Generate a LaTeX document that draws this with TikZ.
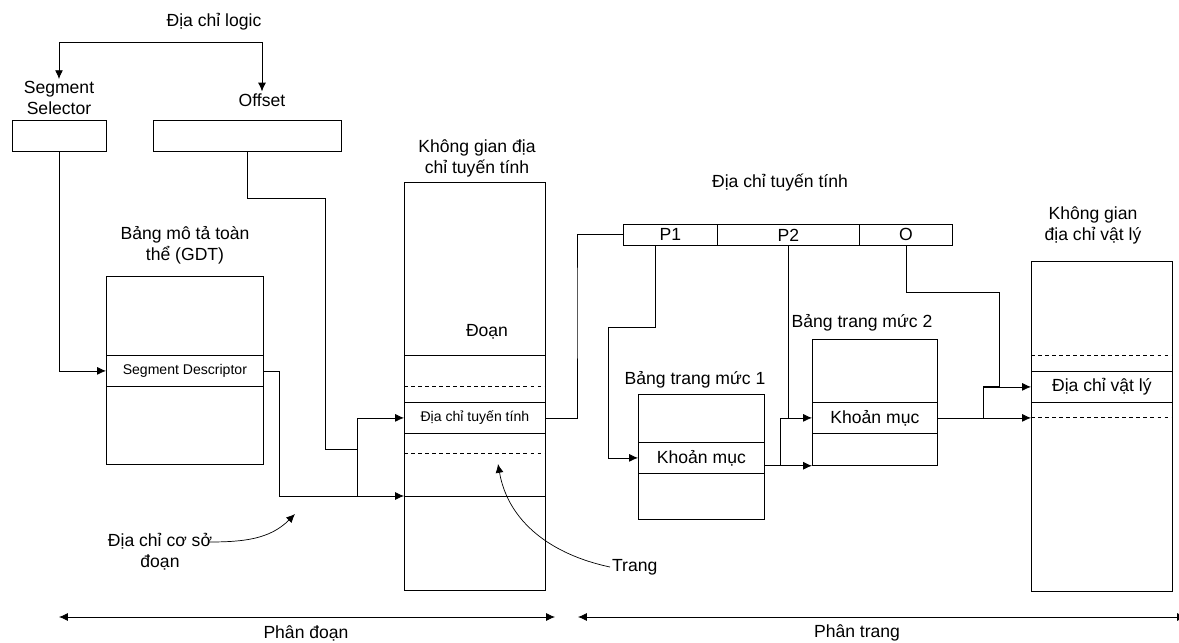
\documentclass[tikz,border=0pt]{standalone}
\usepackage{fontspec}
\setmainfont{Liberation Sans}
\usetikzlibrary{arrows.meta}

\begin{document}
\begin{tikzpicture}[x=0.02cm,y=-0.02cm,line width=0.45pt,
  font=\fontsize{10}{12}\selectfont,
  box/.style={draw,inner sep=0pt,anchor=north west},
  lbl/.style={align=center,inner sep=1pt},
  small/.style={font=\fontsize{8}{10}\selectfont},
  dsh/.style={dash pattern=on 2pt off 2pt},
  >={Latex[length=5pt,width=4.5pt]}]
\useasboundingbox (0,0) rectangle (1179,642);

% logical address
\node[lbl] (logic) at (214,22) {Địa chỉ logic};
\node[lbl] (sellbl) at (59,98) {Segment\\Selector};
\node[lbl] (offlbl) at (262,100) {Offset};
\node[box,minimum width=1.88cm,minimum height=0.62cm] (sel) at (12,120) {};
\node[box,minimum width=3.76cm,minimum height=0.62cm] (off) at (153,120) {};
\coordinate (lg) at (160,42);
\draw[->] (lg) -| (sellbl.north);
\draw[->] (lg) -| (offlbl.north);

% GDT
\node[lbl] (gdtlbl) at (185,245) {Bảng mô tả toàn\\thể (GDT)};
\node[box,minimum width=3.14cm,minimum height=3.76cm] (gdt) at (106,276) {};
\node[box,small,minimum width=3.14cm,minimum height=0.62cm] (desc) at (106,355) {Segment Descriptor};

% linear address space
\node[lbl] (linlbl) at (477,158) {Không gian địa\\chỉ tuyến tính};
\node[box,minimum width=2.82cm,minimum height=8.16cm] (lin) at (404,182) {};
\node[lbl] (doan) at (487,332) {Đoạn};
\draw (404,355) -- (545,355);
\draw (404,496) -- (545,496);
\draw[dsh] (404,386) -- (545,386);
\draw[dsh] (404,453) -- (545,453);
\node[box,small,minimum width=2.82cm,minimum height=0.62cm] (linrow) at (404,402) {Địa chỉ tuyến tính};

% linear address fields
\node[lbl] (addrlbl) at (780,183) {Địa chỉ tuyến tính};
\node[box,minimum width=1.88cm,minimum height=0.42cm] (p1) at (623,224) {P1};
\node[box,minimum width=2.84cm,minimum height=0.42cm] (p2) at (717,224) {P2};
\node[box,minimum width=1.86cm,minimum height=0.42cm] (o) at (859,224) {O};

% page tables
\node[lbl] (t1lbl) at (695,380) {Bảng trang mức 1};
\node[box,minimum width=2.52cm,minimum height=2.5cm] (t1) at (638,394) {};
\node[box,minimum width=2.52cm,minimum height=0.62cm] (t1row) at (638,442) {Khoản mục};
\node[lbl] (t2lbl) at (862,323) {Bảng trang mức 2};
\node[box,minimum width=2.5cm,minimum height=2.52cm] (t2) at (812,339) {};
\node[box,minimum width=2.5cm,minimum height=0.62cm] (t2row) at (812,402) {Khoản mục};

% physical address space
\node[lbl] (physlbl) at (1093,225) {Không gian\\địa chỉ vật lý};
\node[box,minimum width=2.82cm,minimum height=6.6cm] (phys) at (1031,261) {};
\draw[dsh] (1031,355) -- (1172,355);
\draw[dsh] (1031,417) -- (1172,417);
\node[box,minimum width=2.82cm,minimum height=0.62cm] (physrow) at (1031,371) {Địa chỉ vật lý};

% segmentation connectors
\coordinate (j1) at (357,449);
\coordinate (base) at (404,496);
\draw[->] (sel.south) |- (desc.west);
\draw (off.south) |- (325,198) |- (j1);
\draw[->] (desc.east) -| (279,496) -- (base);
\draw[->] (j1) |- (linrow.west);
\draw (j1) -- (357,496);
\draw (linrow.east) -| (577,300) |- (p1.west);

% paging connectors
\draw[->] ([xshift=-0.3cm]p1.south) |- (608,327) |- (t1row.west);
\draw (p2.south) -- (p2.south |- t2row.west);
\draw[->] (t1row.east |- t2.south west) -- (t2.south west);
\draw[->] (780,465) |- (t2row.west);
\draw[->] (t2row.east) -- (t2row.east -| phys.west);
\draw[->] (983,417.5) |- (physrow.west);
\draw (o.south) |- (999,292) |- (983,386.5);

% notes
\node[lbl] (coso) at (160,552) {Địa chỉ cơ sở\\đoạn};
\coordinate (cosotip) at (295,514);
\draw[->,line width=0.4pt] ([xshift=-0.12cm,yshift=0.2cm]coso.east) to[out=0,in=-135] (cosotip);
\node[lbl,anchor=west] (trang) at (610,567) {Trang};
\coordinate (lintip) at (498,464);
\draw[->,line width=0.4pt] (trang.west) to[out=168,in=-80] (lintip);

% bottom ranges
\coordinate (pdl) at (59,617);
\coordinate (pdr) at (555,617);
\coordinate (ptl) at (578,617);
\coordinate (ptr) at (1186,617);
\draw[<->] (pdl) -- (pdr);
\draw[<->] (ptl) -- (ptr);
\node[lbl] (phandoan) at (306,633) {Phân đoạn};
\node[lbl] (phantrang) at (857,633) {Phân trang};
\end{tikzpicture}
\end{document}
